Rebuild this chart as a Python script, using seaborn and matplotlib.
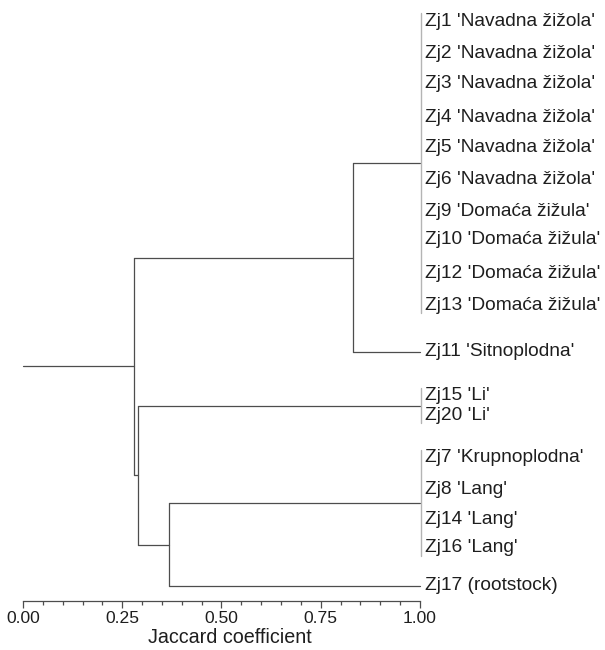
import numpy as np
import pandas as pd
import matplotlib
matplotlib.use("Agg")
import matplotlib.pyplot as plt
import seaborn as sns
from matplotlib.ticker import MultipleLocator, FormatStrFormatter

# leaf labels and their vertical positions (top = 0)
leaf_labels = ["Zj1 'Navadna žižola'", "Zj2 'Navadna žižola'", "Zj3 'Navadna žižola'",
               "Zj4 'Navadna žižola'", "Zj5 'Navadna žižola'", "Zj6 'Navadna žižola'",
               "Zj9 'Domaća žižula'", "Zj10 'Domaća žižula'", "Zj12 'Domaća žižula'",
               "Zj13 'Domaća žižula'", "Zj11 'Sitnoplodna'", "Zj15 'Li'", "Zj20 'Li'",
               "Zj7 'Krupnoplodna'", "Zj8 'Lang'", "Zj14 'Lang'", "Zj16 'Lang'",
               "Zj17 (rootstock)"]
leaf_pos = [21, 53, 83, 117, 147, 179, 211, 240, 273, 305, 352, 396, 415, 458, 489, 519, 548, 586]

# groups of identical leaves (Jaccard = 1.00)
groups = {"A": [0, 1, 2, 3, 4, 5, 6, 7, 8, 9], "Q": [11, 12], "B": [13, 14, 15, 16]}

# merges: (new node, left, right, Jaccard level)
merges = [("P", "A", 10, 0.831),
          ("R", "B", 17, 0.368),
          ("S", "Q", "R", 0.290),
          ("root", "P", "S", 0.280)]

pad = 8
segs = []
node_y = {}
node_x = {}
for i, y in enumerate(leaf_pos):
    node_y[i] = y
    node_x[i] = 1.0
for name, idx in groups.items():
    top = leaf_pos[idx[0]] - pad
    bot = leaf_pos[idx[-1]] + pad
    node_y[name] = (top + bot) / 2
    node_x[name] = 1.0
    segs.append(([1.002, 1.002], [top, bot], "same"))
for name, a, b, h in merges:
    ya, yb = node_y[a], node_y[b]
    segs.append(([node_x[a], h], [ya, ya], "tree"))
    segs.append(([node_x[b], h], [yb, yb], "tree"))
    segs.append(([h, h], [ya, yb], "tree"))
    node_y[name] = (ya + yb) / 2
    node_x[name] = h
segs.append(([node_x["root"], 0.0], [node_y["root"], node_y["root"]], "tree"))

rows = []
for k, (xs, ys, kind) in enumerate(segs):
    for xv, yv in zip(xs, ys):
        rows.append({"x": xv, "y": yv, "seg": k, "kind": kind})
df = pd.DataFrame(rows)

sns.set_style("white")
plt.rcParams["font.family"] = ["Liberation Sans", "DejaVu Sans"]

fig = plt.figure(figsize=(6.05, 6.5), dpi=100)
ax = fig.add_axes([23 / 605, 49 / 650, 397 / 605, 601 / 650])

sns.lineplot(data=df[df["kind"] == "tree"], x="x", y="y", units="seg", estimator=None,
             sort=False, color="#4d4d4d", linewidth=0.9, ax=ax)
sns.lineplot(data=df[df["kind"] == "same"], x="x", y="y", units="seg", estimator=None,
             sort=False, color="#b4b4b4", linewidth=1.0, ax=ax)
for ln in ax.get_lines():
    ln.set_clip_on(False)

for lab, y in zip(leaf_labels, leaf_pos):
    ax.text(1.013, y, lab, va="center", ha="left", fontsize=13.8, color="#1e1e1e", clip_on=False)

ax.set_xlim(0, 1)
ax.set_ylim(601, 0)
for s in ["top", "right", "left"]:
    ax.spines[s].set_visible(False)
ax.spines["bottom"].set_color("#4d4d4d")
ax.spines["bottom"].set_linewidth(0.9)
ax.xaxis.set_major_locator(MultipleLocator(0.25))
ax.xaxis.set_minor_locator(MultipleLocator(0.05))
ax.xaxis.set_major_formatter(FormatStrFormatter("%.2f"))
ax.tick_params(axis="x", which="major", direction="out", length=5, width=0.9, color="#4d4d4d",
               labelsize=12.6, pad=2.5, labelcolor="#1e1e1e", bottom=True)
ax.tick_params(axis="x", which="minor", direction="out", length=3, width=0.9, color="#4d4d4d", bottom=True)
ax.set_yticks([])
ax.set_ylabel("")
ax.set_xlabel("Jaccard coefficient", fontsize=14.2, color="#1e1e1e")
ax.xaxis.set_label_coords(0.52, -0.045)

fig.savefig("out.png", dpi=100)
